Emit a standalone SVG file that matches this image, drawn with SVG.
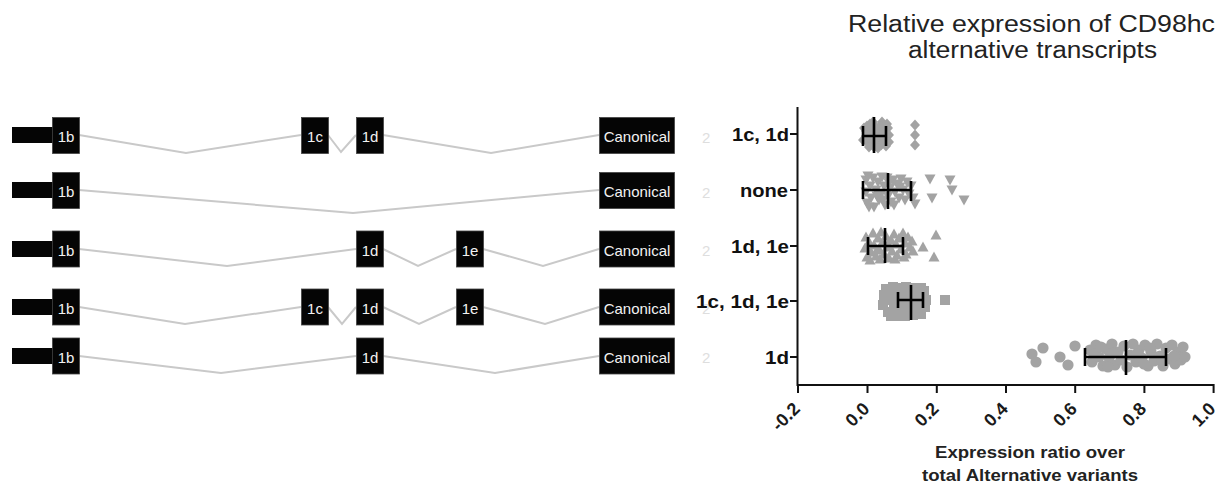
<svg xmlns="http://www.w3.org/2000/svg" xmlns:xlink="http://www.w3.org/1999/xlink" width="1227" height="486" viewBox="0 0 1227 486">
<style>
.bar{fill:#050505}
.exon{fill:#050505;stroke:#444;stroke-width:0.8}
.ex{font-family:"Liberation Sans",Arial,sans-serif;font-size:15px;fill:#f2f2f2;text-anchor:middle}
.n2{font-family:"Liberation Sans",Arial,sans-serif;font-size:15px;fill:#dedede}
.intron{fill:none;stroke:#c9c9c9;stroke-width:2;stroke-linejoin:miter}
.cat{font-family:"Liberation Sans",Arial,sans-serif;font-size:18.5px;font-weight:bold;fill:#111;text-anchor:end}
.tick{font-family:"Liberation Sans",Arial,sans-serif;font-size:18px;font-weight:bold;fill:#1a1a1a;text-anchor:end}
.title{font-family:"Liberation Sans",Arial,sans-serif;font-size:23.5px;fill:#222;text-anchor:middle}
.xt{font-family:"Liberation Sans",Arial,sans-serif;font-size:16px;font-weight:bold;fill:#222;text-anchor:middle}
.axis{stroke:#111;stroke-width:2;fill:none}
.pts{fill:#a3a3a3}
.err{stroke:#000;stroke-width:2.6;fill:none}
</style>
<defs>
<path id="dm" d="M0,-5.5 L5,0 L0,5.5 L-5,0Z"/>
<path id="td" d="M-5.5,-4.5 L5.5,-4.5 L0,5.5Z"/>
<path id="tu" d="M-5.5,4.5 L5.5,4.5 L0,-5.5Z"/>
<rect id="sq" x="-5" y="-5" width="10" height="10"/>
<circle id="ci" r="5.6"/>
</defs>

<text class="title" x="1031.5" y="32" textLength="367" lengthAdjust="spacingAndGlyphs">Relative expression of CD98hc</text>
<text class="title" x="1032.5" y="58" textLength="249" lengthAdjust="spacingAndGlyphs">alternative transcripts</text>

<g id="connectors">
<polyline class="intron" points="79,135 186,153 301,135"/>
<polyline class="intron" points="328,135 341,152 356,135"/>
<polyline class="intron" points="383,135 491,153 599,135"/>
<polyline class="intron" points="79,190 353,213 599,190"/>
<polyline class="intron" points="79,249 227,266 356,249"/>
<polyline class="intron" points="383,249 418,266 456,249"/>
<polyline class="intron" points="483,249 543,266 599,249"/>
<polyline class="intron" points="79,307 185,324 301,307"/>
<polyline class="intron" points="328,307 342,324 356,307"/>
<polyline class="intron" points="383,307 419,324 456,307"/>
<polyline class="intron" points="483,307 545,324 599,307"/>
<polyline class="intron" points="79,356 221,373 356,356"/>
<polyline class="intron" points="383,356 495,373 599,356"/>
</g>

<g id="row1">
<rect class="bar" x="12" y="127" width="41" height="16"/>
<g id="r1-1b"><rect class="exon" x="52.5" y="117.5" width="27" height="36"/><text class="ex" x="66" y="142">1b</text></g>
<g id="r1-1c"><rect class="exon" x="301.5" y="117.5" width="27" height="36"/><text class="ex" x="315" y="142">1c</text></g>
<g id="r1-1d"><rect class="exon" x="356.5" y="117.5" width="27" height="36"/><text class="ex" x="370" y="142">1d</text></g>
<g id="r1-can"><rect class="exon" x="599.5" y="117.5" width="75" height="36"/><text class="ex" x="637" y="142">Canonical</text></g>
<text class="n2" x="702" y="142.5">2</text>
</g>

<g id="row2">
<rect class="bar" x="12" y="182" width="41" height="16"/>
<g id="r2-1b"><rect class="exon" x="52.5" y="172.5" width="27" height="36"/><text class="ex" x="66" y="197">1b</text></g>
<g id="r2-can"><rect class="exon" x="599.5" y="172.5" width="75" height="36"/><text class="ex" x="637" y="197">Canonical</text></g>
<text class="n2" x="702" y="197.5">2</text>
</g>

<g id="row3">
<rect class="bar" x="12" y="241" width="41" height="16"/>
<g id="r3-1b"><rect class="exon" x="52.5" y="231" width="27" height="36"/><text class="ex" x="66" y="255.5">1b</text></g>
<g id="r3-1d"><rect class="exon" x="356.5" y="231" width="27" height="36"/><text class="ex" x="370" y="255.5">1d</text></g>
<g id="r3-1e"><rect class="exon" x="456.5" y="231" width="27" height="36"/><text class="ex" x="470" y="255.5">1e</text></g>
<g id="r3-can"><rect class="exon" x="599.5" y="231" width="75" height="36"/><text class="ex" x="637" y="255.5">Canonical</text></g>
<text class="n2" x="702" y="256">2</text>
</g>

<g id="row4">
<rect class="bar" x="12" y="299" width="41" height="16"/>
<g id="r4-1b"><rect class="exon" x="52.5" y="289" width="27" height="36"/><text class="ex" x="66" y="313.5">1b</text></g>
<g id="r4-1c"><rect class="exon" x="301.5" y="289" width="27" height="36"/><text class="ex" x="315" y="313.5">1c</text></g>
<g id="r4-1d"><rect class="exon" x="356.5" y="289" width="27" height="36"/><text class="ex" x="370" y="313.5">1d</text></g>
<g id="r4-1e"><rect class="exon" x="456.5" y="289" width="27" height="36"/><text class="ex" x="470" y="313.5">1e</text></g>
<g id="r4-can"><rect class="exon" x="599.5" y="289" width="75" height="36"/><text class="ex" x="637" y="313.5">Canonical</text></g>
<text class="n2" x="702" y="314">2</text>
</g>

<g id="row5">
<rect class="bar" x="12" y="348" width="41" height="16"/>
<g id="r5-1b"><rect class="exon" x="52.5" y="338" width="27" height="36"/><text class="ex" x="66" y="362.5">1b</text></g>
<g id="r5-1d"><rect class="exon" x="356.5" y="338" width="27" height="36"/><text class="ex" x="370" y="362.5">1d</text></g>
<g id="r5-can"><rect class="exon" x="599.5" y="338" width="75" height="36"/><text class="ex" x="637" y="362.5">Canonical</text></g>
<text class="n2" x="702" y="363">2</text>
</g>

<g id="plot">
<g class="pts">
<use href="#dm" x="864" y="128"/><use href="#dm" x="866" y="136"/><use href="#dm" x="868" y="143"/><use href="#dm" x="870" y="124"/><use href="#dm" x="871" y="131"/><use href="#dm" x="872" y="140"/><use href="#dm" x="874" y="147"/><use href="#dm" x="875" y="126"/><use href="#dm" x="876" y="134"/><use href="#dm" x="877" y="141"/><use href="#dm" x="879" y="129"/><use href="#dm" x="880" y="137"/><use href="#dm" x="881" y="145"/><use href="#dm" x="883" y="124"/><use href="#dm" x="884" y="132"/><use href="#dm" x="885" y="139"/><use href="#dm" x="886" y="146"/><use href="#dm" x="888" y="128"/><use href="#dm" x="889" y="135"/><use href="#dm" x="889" y="142"/><use href="#dm" x="866" y="131"/><use href="#dm" x="869" y="147"/><use href="#dm" x="873" y="122"/><use href="#dm" x="878" y="148"/><use href="#dm" x="882" y="122"/><use href="#dm" x="887" y="124"/><use href="#dm" x="863" y="140"/><use href="#dm" x="867" y="126"/><use href="#dm" x="870" y="138"/><use href="#dm" x="884" y="143"/><use href="#dm" x="880" y="126"/>
<use href="#dm" x="915" y="125"/><use href="#dm" x="915" y="135"/><use href="#dm" x="915" y="145"/>
<use href="#td" x="866" y="180"/><use href="#td" x="866" y="192"/><use href="#td" x="867" y="203"/><use href="#td" x="870" y="186"/><use href="#td" x="871" y="198"/><use href="#td" x="873" y="178"/><use href="#td" x="874" y="207"/><use href="#td" x="876" y="190"/><use href="#td" x="878" y="182"/><use href="#td" x="879" y="200"/><use href="#td" x="881" y="194"/><use href="#td" x="882" y="177"/><use href="#td" x="884" y="186"/><use href="#td" x="885" y="205"/><use href="#td" x="887" y="178"/><use href="#td" x="888" y="196"/><use href="#td" x="890" y="188"/><use href="#td" x="891" y="202"/><use href="#td" x="893" y="180"/><use href="#td" x="895" y="192"/><use href="#td" x="897" y="184"/><use href="#td" x="899" y="198"/><use href="#td" x="901" y="179"/><use href="#td" x="903" y="190"/><use href="#td" x="905" y="200"/><use href="#td" x="907" y="182"/><use href="#td" x="909" y="194"/><use href="#td" x="911" y="186"/><use href="#td" x="913" y="198"/><use href="#td" x="915" y="204"/><use href="#td" x="869" y="207"/><use href="#td" x="877" y="196"/><use href="#td" x="883" y="200"/><use href="#td" x="889" y="183"/><use href="#td" x="894" y="205"/><use href="#td" x="900" y="187"/><use href="#td" x="868" y="176"/>
<use href="#td" x="930" y="179"/><use href="#td" x="932" y="198"/><use href="#td" x="950" y="180"/><use href="#td" x="952" y="190"/><use href="#td" x="964" y="200"/>
<use href="#tu" x="866" y="237"/><use href="#tu" x="865" y="248"/><use href="#tu" x="867" y="257"/><use href="#tu" x="869" y="242"/><use href="#tu" x="871" y="252"/><use href="#tu" x="873" y="233"/><use href="#tu" x="874" y="245"/><use href="#tu" x="876" y="256"/><use href="#tu" x="878" y="238"/><use href="#tu" x="879" y="249"/><use href="#tu" x="881" y="232"/><use href="#tu" x="882" y="243"/><use href="#tu" x="884" y="254"/><use href="#tu" x="886" y="236"/><use href="#tu" x="887" y="247"/><use href="#tu" x="889" y="258"/><use href="#tu" x="891" y="240"/><use href="#tu" x="892" y="251"/><use href="#tu" x="894" y="234"/><use href="#tu" x="896" y="244"/><use href="#tu" x="897" y="255"/><use href="#tu" x="899" y="238"/><use href="#tu" x="901" y="249"/><use href="#tu" x="903" y="233"/><use href="#tu" x="905" y="243"/><use href="#tu" x="906" y="254"/><use href="#tu" x="908" y="237"/><use href="#tu" x="910" y="247"/><use href="#tu" x="912" y="241"/><use href="#tu" x="913" y="251"/><use href="#tu" x="870" y="260"/><use href="#tu" x="880" y="259"/><use href="#tu" x="895" y="259"/><use href="#tu" x="904" y="257"/><use href="#tu" x="877" y="250"/><use href="#tu" x="888" y="244"/>
<use href="#tu" x="923" y="247"/><use href="#tu" x="936" y="235"/><use href="#tu" x="934" y="257"/>
<use href="#sq" x="884" y="295"/><use href="#sq" x="883" y="305"/><use href="#sq" x="886" y="289"/><use href="#sq" x="887" y="300"/><use href="#sq" x="888" y="312"/><use href="#sq" x="890" y="293"/><use href="#sq" x="891" y="316"/><use href="#sq" x="893" y="287"/><use href="#sq" x="894" y="304"/><use href="#sq" x="895" y="296"/><use href="#sq" x="897" y="310"/><use href="#sq" x="899" y="288"/><use href="#sq" x="900" y="300"/><use href="#sq" x="901" y="315"/><use href="#sq" x="903" y="292"/><use href="#sq" x="904" y="306"/><use href="#sq" x="906" y="287"/><use href="#sq" x="907" y="298"/><use href="#sq" x="908" y="313"/><use href="#sq" x="910" y="291"/><use href="#sq" x="911" y="304"/><use href="#sq" x="913" y="315"/><use href="#sq" x="914" y="288"/><use href="#sq" x="915" y="298"/><use href="#sq" x="916" y="310"/><use href="#sq" x="918" y="293"/><use href="#sq" x="919" y="305"/><use href="#sq" x="921" y="288"/><use href="#sq" x="921" y="314"/><use href="#sq" x="923" y="298"/><use href="#sq" x="924" y="291"/><use href="#sq" x="925" y="307"/><use href="#sq" x="926" y="300"/><use href="#sq" x="905" y="316"/><use href="#sq" x="896" y="316"/><use href="#sq" x="889" y="300"/>
<use href="#sq" x="945" y="300"/>
<use href="#ci" x="1032" y="354"/><use href="#ci" x="1036" y="362"/><use href="#ci" x="1043" y="348"/><use href="#ci" x="1060" y="357"/><use href="#ci" x="1068" y="365"/><use href="#ci" x="1075" y="346"/>
<use href="#ci" x="1090" y="350"/><use href="#ci" x="1092" y="362"/><use href="#ci" x="1096" y="345"/><use href="#ci" x="1099" y="357"/><use href="#ci" x="1103" y="366"/><use href="#ci" x="1106" y="349"/><use href="#ci" x="1109" y="358"/><use href="#ci" x="1112" y="344"/><use href="#ci" x="1115" y="365"/><use href="#ci" x="1118" y="352"/><use href="#ci" x="1121" y="360"/><use href="#ci" x="1124" y="346"/><use href="#ci" x="1127" y="367"/><use href="#ci" x="1130" y="355"/><use href="#ci" x="1133" y="344"/><use href="#ci" x="1136" y="362"/><use href="#ci" x="1139" y="350"/><use href="#ci" x="1142" y="358"/><use href="#ci" x="1145" y="345"/><use href="#ci" x="1148" y="366"/><use href="#ci" x="1151" y="352"/><use href="#ci" x="1154" y="361"/><use href="#ci" x="1157" y="344"/><use href="#ci" x="1160" y="356"/><use href="#ci" x="1163" y="366"/><use href="#ci" x="1166" y="348"/><use href="#ci" x="1169" y="359"/><use href="#ci" x="1172" y="345"/><use href="#ci" x="1175" y="364"/><use href="#ci" x="1178" y="352"/><use href="#ci" x="1181" y="360"/><use href="#ci" x="1183" y="347"/><use href="#ci" x="1185" y="357"/><use href="#ci" x="1094" y="354"/><use href="#ci" x="1101" y="347"/><use href="#ci" x="1113" y="353"/><use href="#ci" x="1137" y="354"/><use href="#ci" x="1150" y="348"/><use href="#ci" x="1162" y="360"/><use href="#ci" x="1174" y="356"/><use href="#ci" x="1108" y="367"/><use href="#ci" x="1144" y="364"/>
</g>

<g id="errorbars" class="err">
<path d="M863,136 H886 M863,126 V146 M886,126 V146 M874,117 V153"/>
<path d="M863,190 H911 M863,181 V199 M911,181 V201 M888,173 V209"/>
<path d="M868,246 H903 M868,237 V255 M903,237 V255 M885,228 V263"/>
<path d="M898,300 H923 M898,292 V308 M923,292 V308 M911,285 V320"/>
<path d="M1085,357 H1166 M1085,348 V366 M1166,348 V366 M1126,340 V375"/>
</g>

<g id="axes" class="axis">
<path d="M797.5,107 V385 H1214"/>
<path d="M790,134 H797.5 M790,190 H797.5 M790,246 H797.5 M790,301 H797.5 M790,357 H797.5"/>
<path d="M798,384 V393 M867.5,384 V393 M936.8,384 V393 M1006,384 V393 M1075.2,384 V393 M1144.4,384 V393 M1213.6,384 V393"/>
</g>

<g id="ylabels">
<text class="cat" x="789" y="141" textLength="57" lengthAdjust="spacingAndGlyphs">1c, 1d</text>
<text class="cat" x="788" y="197" textLength="48" lengthAdjust="spacingAndGlyphs">none</text>
<text class="cat" x="789" y="253" textLength="58" lengthAdjust="spacingAndGlyphs">1d, 1e</text>
<text class="cat" x="789" y="308" textLength="93" lengthAdjust="spacingAndGlyphs">1c, 1d, 1e</text>
<text class="cat" x="789" y="364" textLength="24" lengthAdjust="spacingAndGlyphs">1d</text>
</g>

<g id="xlabels">
<text class="tick" transform="translate(801,410) rotate(-45)">-0.2</text>
<text class="tick" transform="translate(870.5,410) rotate(-45)">0.0</text>
<text class="tick" transform="translate(939.8,410) rotate(-45)">0.2</text>
<text class="tick" transform="translate(1009,410) rotate(-45)">0.4</text>
<text class="tick" transform="translate(1078.2,410) rotate(-45)">0.6</text>
<text class="tick" transform="translate(1147.4,410) rotate(-45)">0.8</text>
<text class="tick" transform="translate(1216.6,410) rotate(-45)">1.0</text>
</g>

<text class="xt" x="1030" y="458" textLength="190" lengthAdjust="spacingAndGlyphs">Expression ratio over</text>
<text class="xt" x="1030" y="480.5" textLength="216" lengthAdjust="spacingAndGlyphs">total Alternative variants</text>
</g>
</svg>
